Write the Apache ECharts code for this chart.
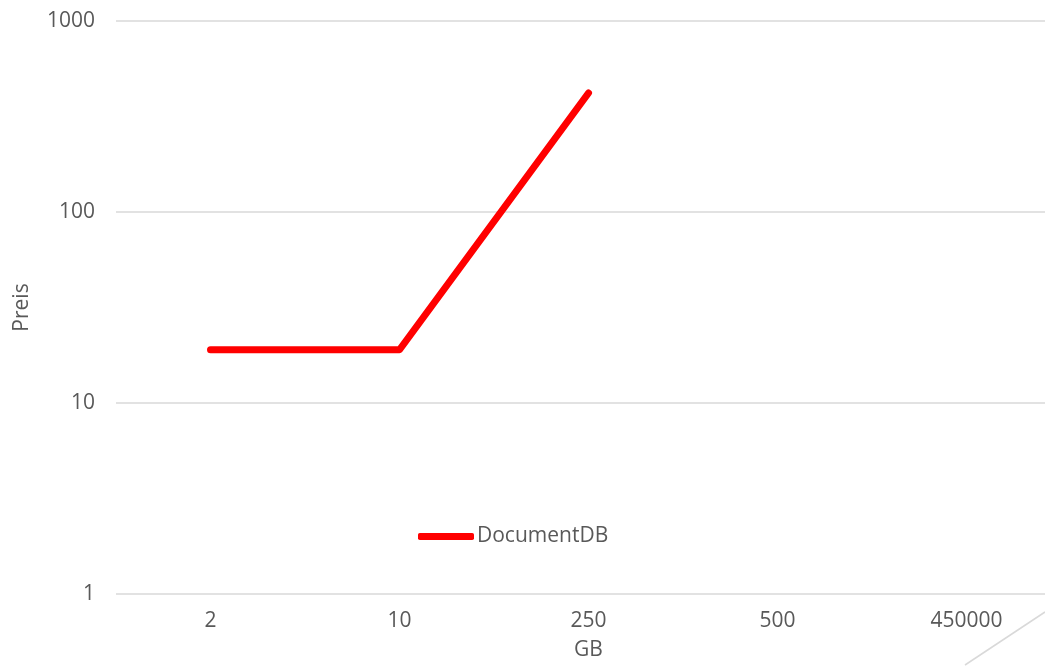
<!DOCTYPE html>
<html>
<head>
<meta charset="utf-8">
<script src="https://cdn.jsdelivr.net/npm/echarts@6/dist/echarts.min.js"></script>
<style>
  html, body { margin: 0; padding: 0; background: #fff; overflow: hidden; }
  /* plot runs past the right edge of the window, as in the reference */
  #chart { width: 1061px; height: 667px; }
</style>
</head>
<body>
<div id="chart"></div>
<script>
// storage tiers (GB) vs. monthly price, log scale
const categories = ['2', '10', '250', '500', '450000']
const documentDB = [19, 19, 420, '-', '-']
const yTicks = [1, 10, 100, 1000]

const FONT = '"Open Sans", sans-serif'
const INK = '#595959'
const GRID = '#d9d9d9'
const FS = 21

const chart = echarts.init(document.getElementById('chart'), null, { renderer: 'canvas' })

chart.setOption({
  animation: false,
  textStyle: { fontFamily: FONT, color: INK },
  grid: { left: 116, top: 21, right: 0, bottom: 73, containLabel: false },
  legend: {
    left: 413, top: 521,
    itemWidth: 56, itemHeight: 7, itemGap: 0,
    icon: 'roundRect',
    textStyle: { color: INK, fontSize: FS, fontFamily: FONT, padding: [0, 0, 0, -2] },
    data: ['DocumentDB'],
  },
  xAxis: {
    type: 'category',
    data: categories,
    name: 'GB',
    nameLocation: 'middle',
    nameGap: 46,
    nameTextStyle: { color: INK, fontSize: FS, fontFamily: FONT },
    axisLine: { show: false },
    axisTick: { show: false },
    axisLabel: { color: INK, fontSize: FS, margin: 17, fontFamily: FONT },
  },
  yAxis: {
    type: 'log',
    logBase: 10,
    min: yTicks[0],
    max: yTicks[yTicks.length - 1],
    name: 'Preis',
    nameLocation: 'middle',
    nameGap: 83,
    nameTextStyle: { color: INK, fontSize: FS, fontFamily: FONT },
    axisLine: { show: false },
    axisTick: { show: false },
    splitLine: { lineStyle: { color: GRID, width: 1.5 } },
    axisLabel: { color: INK, fontSize: FS, margin: 21, fontFamily: FONT, formatter: v => String(v) },
  },
  graphic: [{
    type: 'line',
    shape: { x1: 1045, y1: 612, x2: 965, y2: 665 },
    style: { stroke: GRID, lineWidth: 1.5 },
    silent: true,
  }],
  series: [{
    name: 'DocumentDB',
    type: 'line',
    data: documentDB,
    showSymbol: false,
    symbol: 'none',
    color: '#ff0000',
    lineStyle: { width: 7, color: '#ff0000', cap: 'round', join: 'round' },
  }],
})
</script>
</body>
</html>
